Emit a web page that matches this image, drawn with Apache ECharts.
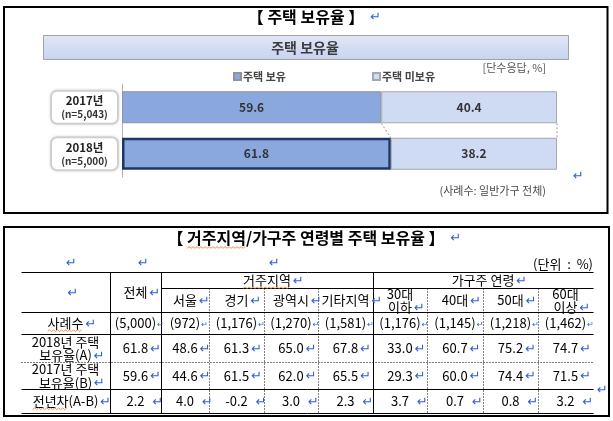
<!DOCTYPE html>
<html><head><meta charset="utf-8">
<script src="https://cdn.jsdelivr.net/npm/echarts@6/dist/echarts.min.js"></script>
<style>html,body{margin:0;padding:0;background:#fff}#c{width:613px;height:421px}</style>
</head><body><div id="c"></div>
<script>
// ---------- data ----------
const years = ['2017년\n(n=5,043)', '2018년\n(n=5,000)'];
const ownRate = [59.6, 61.8];
const notOwnRate = [40.4, 38.2];
const seriesNames = ['주택 보유', '주택 미보유'];

const regionCats = ['서울', '경기', '광역시', '기타지역'];
const ageCats = ['30대\n이하', '40대', '50대', '60대\n이상'];
const rowLabels = ['사례수', '2018년 주택\n보유율(A)', '2017년 주택\n보유율(B)', '전년차(A-B)'];
const sampleSizes = [5000, 972, 1176, 1270, 1581, 1176, 1145, 1218, 1462];
const rate2018 = [61.8, 48.6, 61.3, 65.0, 67.8, 33.0, 60.7, 75.2, 74.7];
const rate2017 = [59.6, 44.6, 61.5, 62.0, 65.5, 29.3, 60.0, 74.4, 71.5];
const diffAB = [2.2, 4.0, -0.2, 3.0, 2.3, 3.7, 0.7, 0.8, 3.2];

// ---------- layout / style constants ----------
const FONT = '"Noto Sans CJK KR", "Noto Sans", sans-serif';
const ARROW = '#2d5fd6';
const COL_W = [89, 51, 48, 55, 54, 55, 54, 56, 55, 55];   // relative column widths
const ROW_H = [16, 24, 22, 28, 27, 24];                   // relative row heights
const colEdges = COL_W.reduce((a, w) => (a.push(a[a.length - 1] + w), a), [0]);
const rowEdges = ROW_H.reduce((a, h) => (a.push(a[a.length - 1] + h), a), [0]);
const TW = colEdges[colEdges.length - 1], TH = rowEdges[rowEdges.length - 1];
const CELL_FONT = '13px ' + FONT, CELL_LH = 13.5;
const MARKS = { a: { size: 13, gap: 2 }, b: { size: 8, gap: 1 }, c: { size: 13, gap: 8 }, h: { size: 13, gap: 6 } };

const mctx = document.createElement('canvas').getContext('2d');
function measure(s, font) { mctx.font = font; return mctx.measureText(s).width; }

// centred paragraph followed by a Word-style return mark (mark does not affect centring)
// ul = [textBefore, word] : spell-check style wavy underline under word on the first line
function marked(cx, cy, text, font, lh, mk, ul) {
  const lines = text.split('\n');
  const w = text ? measure(lines[lines.length - 1], font) : 0;
  const m = MARKS[mk];
  const els = [];
  if (text) els.push({ type: 'text', x: cx, y: cy, silent: true,
    style: { text, font, lineHeight: lh, fill: '#000', align: 'center', verticalAlign: 'middle' } });
  els.push({ type: 'text', x: cx + w / 2 + m.gap, y: cy + (lines.length - 1) * lh / 2 + 1, silent: true,
    style: { text: '↵', font: m.size + 'px "DejaVu Sans"', fill: ARROW, align: 'left', verticalAlign: 'middle' } });
  if (ul) {
    const w0 = measure(lines[0], font);
    const x0 = cx - w0 / 2 + measure(ul[0], font);
    const x1 = x0 + measure(ul[1], font);
    const y = cy - (lines.length - 1) * lh / 2 + lh / 2 + 0.5;
    els.push({ type: 'polyline', silent: true,
      shape: { points: Array.from({ length: Math.floor((x1 - x0) / 2) + 1 }, (_, k) => [x0 + k * 2, y + (k % 2 ? -0.8 : 0.8)]) },
      style: { stroke: '#e8731f', lineWidth: 0.8, fill: null } });
  }
  return els;
}

// ---------- table cells ----------
const cells = [];
function cell(c0, c1, r0, r1, text, mk, ul) {
  cells.push({ x: (colEdges[c0] + colEdges[c1]) / 2, y: (rowEdges[r0] + rowEdges[r1]) / 2, text, mk: mk || 'a', ul });
}
cell(0, 1, 0, 2, '');
cell(1, 2, 0, 2, '전체');
cell(2, 6, 0, 1, '거주지역', 'a', ['', '거주지역']);
cell(6, 10, 0, 1, '가구주 연령');
regionCats.forEach((t, i) => cell(2 + i, 3 + i, 1, 2, t));
ageCats.forEach((t, i) => cell(6 + i, 7 + i, 1, 2, t));
const bodyRows = [
  sampleSizes.map(v => '(' + v.toLocaleString('en-US') + ')'),
  rate2018.map(v => v.toFixed(1)),
  rate2017.map(v => v.toFixed(1)),
  diffAB.map(v => v.toFixed(1))
];
const rowMarks = ['b', 'a', 'a', 'c'];
const rowUnderline = [['', '사례수'], null, null, ['', '전년차']];
rowLabels.forEach((lab, r) => {
  cell(0, 1, 2 + r, 3 + r, lab, 'a', rowUnderline[r]);
  bodyRows[r].forEach((t, j) => cell(1 + j, 2 + j, 2 + r, 3 + r, t, rowMarks[r]));
});

// ---------- table rules: [x1, y1, x2, y2, dotted] in table units ----------
const rules = [];
[0, 2, 3, 5, 6].forEach(r => rules.push([0, rowEdges[r], TW, rowEdges[r], 0]));
rules.push([colEdges[2], rowEdges[1], TW, rowEdges[1], 0]);
rules.push([0, rowEdges[4], TW, rowEdges[4], 1]);
[1, 2, 6].forEach(c => rules.push([colEdges[c], 0, colEdges[c], TH, 0]));
[3, 4, 5, 7, 8, 9].forEach(c => rules.push([colEdges[c], rowEdges[1], colEdges[c], TH, 1]));

// connectors between consecutive bars (end of own part and end of total)
const connectors = [];
for (let i = 0; i < ownRate.length - 1; i++) {
  connectors.push([ownRate[i], i, ownRate[i + 1], i + 1]);
  connectors.push([ownRate[i] + notOwnRate[i], i, ownRate[i + 1] + notOwnRate[i + 1], i + 1]);
}
const BAR_W = 32;

const chart = echarts.init(document.getElementById('c'), null, { renderer: 'canvas' });
const txt = (x, y, text, extra) => ({ type: 'text', x, y, silent: true, style: Object.assign({ text, font: '11px ' + FONT, fill: '#444', align: 'left', verticalAlign: 'middle' }, extra || {}) });
const TITLE_FONT = 'bold 16px ' + FONT;

chart.setOption({
  animation: false,
  backgroundColor: '#fff',
  textStyle: { fontFamily: FONT },
  legend: {
    data: seriesNames, left: 233, top: 71, padding: 0, itemWidth: 7, itemHeight: 7, itemGap: 86,
    icon: 'rect', selectedMode: false,
    textStyle: { fontSize: 11, fontWeight: 'bold', color: '#444', fontFamily: FONT, padding: [0, 0, 0, -3] }
  },
  grid: [
    { left: 122, top: 84, width: 435, height: 93, outerBoundsMode: 'none', containLabel: false },
    { left: 21, top: 272, width: 572, height: 141, outerBoundsMode: 'none', containLabel: false }
  ],
  xAxis: [
    { type: 'value', gridIndex: 0, min: 0, max: 100, show: false },
    { type: 'value', gridIndex: 1, min: 0, max: TW, show: false }
  ],
  yAxis: [
    {
      type: 'category', gridIndex: 0, data: years, inverse: true,
      axisLine: { show: true, lineStyle: { color: '#b3b3b3', width: 1 } },
      axisTick: { show: false }, splitLine: { show: false },
      axisLabel: {
        margin: 5, width: 57, padding: [2, 4, 2, 4], backgroundColor: '#fff',
        borderColor: '#d6d6d6', borderWidth: 2, borderRadius: 5,
        shadowColor: 'rgba(0,0,0,0.12)', shadowBlur: 3,
        formatter: v => { const p = v.split('\n'); return '{y|' + p[0] + '}\n{n|' + p[1] + '}'; },
        rich: {
          y: { fontSize: 11.5, fontWeight: 'bold', color: '#222', fontFamily: FONT, lineHeight: 14, align: 'center', width: 57 },
          n: { fontSize: 10, fontWeight: 'bold', color: '#333', fontFamily: FONT, lineHeight: 13, align: 'center', width: 57 }
        }
      }
    },
    { type: 'value', gridIndex: 1, min: 0, max: TH, inverse: true, show: false }
  ],
  series: [
    {
      name: seriesNames[0], type: 'bar', stack: 'share', xAxisIndex: 0, yAxisIndex: 0, barWidth: BAR_W,
      data: ownRate.map((v, i) => i === ownRate.length - 1
        ? { value: v, itemStyle: { borderColor: '#1b3767', borderWidth: 2.5 } } : v),
      itemStyle: { color: '#8ba8de', borderColor: '#8c939e', borderWidth: 1 },
      label: { show: true, position: 'inside', fontSize: 12, fontWeight: 'bold', color: '#333', fontFamily: FONT },
      emphasis: { disabled: true }
    },
    {
      name: seriesNames[1], type: 'bar', stack: 'share', xAxisIndex: 0, yAxisIndex: 0, barWidth: BAR_W,
      data: notOwnRate,
      itemStyle: { color: '#cfdbf3', borderColor: '#a3a7ae', borderWidth: 1 },
      label: { show: true, position: 'inside', fontSize: 12, fontWeight: 'bold', color: '#333', fontFamily: FONT },
      emphasis: { disabled: true }
    },
    {
      type: 'custom', xAxisIndex: 0, yAxisIndex: 0, silent: true, data: connectors, z: 1,
      renderItem: (params, api) => {
        const p1 = api.coord([api.value(0), api.value(1)]);
        const p2 = api.coord([api.value(2), api.value(3)]);
        return { type: 'line', shape: { x1: p1[0], y1: p1[1] + BAR_W / 2, x2: p2[0], y2: p2[1] - BAR_W / 2 },
          style: { stroke: '#999', lineWidth: 1, lineDash: [2, 2] } };
      }
    },
    {
      type: 'custom', xAxisIndex: 1, yAxisIndex: 1, silent: true, data: rules, clip: false,
      renderItem: (params, api) => {
        const p1 = api.coord([api.value(0), api.value(1)]);
        const p2 = api.coord([api.value(2), api.value(3)]);
        const f = v => Math.round(v) + 0.5;
        return { type: 'line', shape: { x1: f(p1[0]), y1: f(p1[1]), x2: f(p2[0]), y2: f(p2[1]) },
          style: { stroke: '#000', lineWidth: 1, lineDash: api.value(4) === 1 ? [1, 2] : null } };
      }
    },
    {
      type: 'custom', xAxisIndex: 1, yAxisIndex: 1, silent: true, clip: false,
      data: cells.map(c => [c.x, c.y]),
      renderItem: (params, api) => {
        const p = api.coord([api.value(0), api.value(1)]);
        const c = cells[params.dataIndex];
        return { type: 'group', children: marked(p[0], p[1] + 0.5, c.text, CELL_FONT, CELL_LH, c.mk, c.ul) };
      }
    }
  ],
  graphic: [
    { type: 'rect', silent: true, shape: { x: 4, y: 7, width: 603.5, height: 206 }, style: { fill: null, stroke: '#000', lineWidth: 2 } },
    { type: 'rect', silent: true, shape: { x: 4, y: 227, width: 605, height: 189 }, style: { fill: null, stroke: '#000', lineWidth: 2 } },
    { type: 'rect', silent: true, shape: { x: 43.5, y: 35.5, width: 525, height: 24 },
      style: { stroke: '#a3a3a3', lineWidth: 1,
        fill: { type: 'linear', x: 0, y: 0, x2: 0, y2: 1, colorStops: [{ offset: 0, color: '#e3e6f7' }, { offset: 1, color: '#c6d3f1' }] } } },
    ...marked(306, 17, '【 주택 보유율 】', TITLE_FONT, 18, 'h'),
    txt(305, 48, '주택 보유율', { font: 'bold 14px ' + FONT, fill: '#3c3c3c', align: 'center' }),
    txt(546, 68, '[단수응답, %]', { font: '11px ' + FONT, fill: '#555', align: 'right' }),
    txt(546, 191, '(사례수: 일반가구 전체)', { font: '11px ' + FONT, fill: '#4a4a4a', align: 'right' }),
    txt(573, 177, '↵', { font: '13px DejaVu Sans', fill: ARROW }),
    ...marked(306, 238, '【 거주지역/가구주 연령별 주택 보유율 】', TITLE_FONT, 18, 'h', ['【 ', '거주지역']),
    txt(593, 264, '(단위  :  %)', { font: '13px ' + FONT, fill: '#000', align: 'right' }),
    txt(66, 264, '↵', { font: '13px DejaVu Sans', fill: ARROW }),
    txt(138, 264, '↵', { font: '13px DejaVu Sans', fill: ARROW }),
    txt(269, 264, '↵', { font: '13px DejaVu Sans', fill: ARROW }),
    txt(597, 391, '↵', { font: '13px DejaVu Sans', fill: ARROW })
  ]
});
</script></body></html>
